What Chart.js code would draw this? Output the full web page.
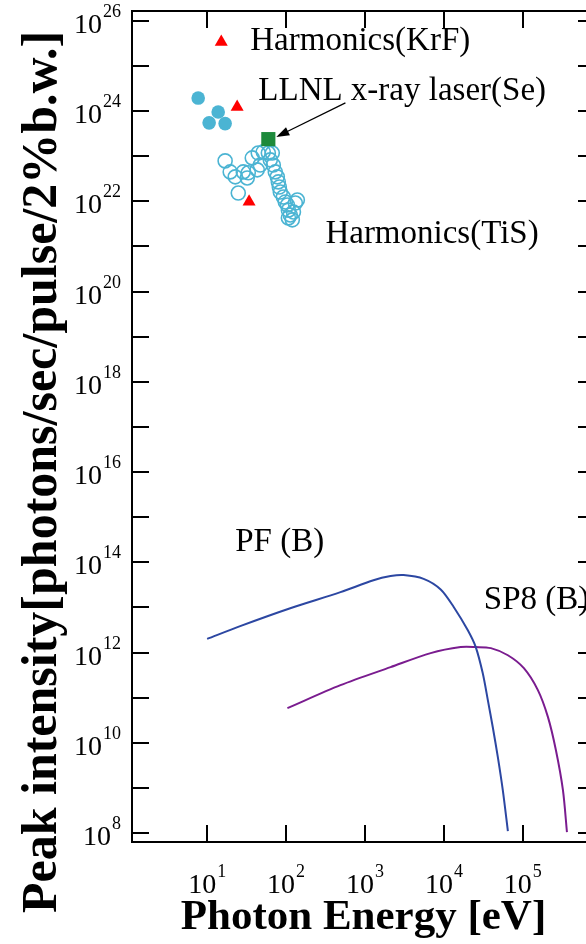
<!DOCTYPE html>
<html>
<head>
<meta charset="utf-8">
<script src="https://cdn.jsdelivr.net/npm/chart.js@4.4.1/dist/chart.umd.min.js"></script>
<style>
  html, body { margin: 0; padding: 0; background: #fff; overflow: hidden; }
  #wrap { width: 586px; height: 944px; overflow: hidden; }
  canvas { display: block; }
</style>
</head>
<body>
<div id="wrap"><canvas id="chart" width="605" height="944"></canvas></div>
<script>
// values: photon energy [eV] and peak intensity
const pfEnergy = [10, 26.2, 113, 489, 1280, 2110, 3080, 5530, 9100, 13300, 20000, 25300, 31000, 36000, 41600, 48200, 55700, 64600]
const pfIntensity = [2.0e12, 3.85e12, 9.6e12, 2.18e13, 4.0e13, 4.94e13, 5.2e13, 4.3e13, 2.5e13, 1.02e13, 3.14e12, 1.32e12, 3.5e11, 8.8e10, 2.2e10, 4.8e9, 8.9e8, 1.1e8]

const sp8Energy = [104, 489, 2110, 6790, 16300, 25300, 39300, 64600, 103000, 155000, 208000, 262000, 322000, 362000]
const sp8Intensity = [5.85e10, 1.89e11, 4.74e11, 9.7e11, 1.32e12, 1.32e12, 1.25e12, 8.7e11, 4.5e11, 1.47e11, 3.7e10, 6.9e9, 8.9e8, 1.04e8]

const tisEnergy = [16.9, 19.6, 22.7, 24.8, 28.7, 32.2, 33.2, 37.3, 43.1, 47.1, 44.4, 51.4, 59.6, 66.9, 63.1, 68.9, 73.0, 77.4, 79.7, 82.1, 84.5, 92.3, 97.8, 104, 107, 113, 120, 107, 124, 131, 139]
const tisIntensity = [7.9e22, 4.5e22, 3.5e22, 1.53e22, 4.5e22, 3.3e22, 4.3e22, 9.2e22, 5.0e22, 6.4e22, 1.18e23, 1.25e23, 1.18e23, 1.18e23, 8.3e22, 6.4e22, 4.5e22, 3.5e22, 2.7e22, 2.08e22, 1.61e22, 1.25e22, 9.7e21, 8.3e21, 6.4e21, 5.0e21, 3.9e21, 4.3e21, 5.8e21, 9.2e21, 1.07e22]

const solidEnergy = [7.7, 13.8, 10.6, 16.9]
const solidIntensity = [1.95e24, 9.6e23, 5.5e23, 5.3e23]

const krfEnergy = [24, 34]
const krfIntensity = [1.24e24, 9.8e21]
const krfKeyEnergy = [15.1]
const krfKeyIntensity = [3.4e25]

const llnlEnergy = [59.6]
const llnlIntensity = [2.4e23]

// annotation labels (left/baseline anchor, data units)
const noteTexts = ['Harmonics(KrF)', 'LLNL x-ray laser(Se)', 'Harmonics(TiS)', 'PF (B)', 'SP8 (B)']
const noteEnergy = [35.2, 44.5, 315, 22.7, 32000]
const noteIntensity = [2.27e25, 1.77e24, 1.2e21, 1.77e14, 9.2e12]
const arrowTail = [565, 1.52e24]
const arrowHead = [75.2, 2.68e23]

const xExponents = [1, 2, 3, 4, 5]
const yExponents = [8, 9, 10, 11, 12, 13, 14, 15, 16, 17, 18, 19, 20, 21, 22, 23, 24, 25, 26]
const xRange = [10 ** 0.048, 10 ** 5.914]
const yRange = [10 ** 7.8, 10 ** 26.22]

const xTitle = 'Photon Energy [eV]'
const yTitle = 'Peak intensity[photons/sec/pulse/2%b.w.]'

const serif = '"Liberation Serif", "Times New Roman", serif'
const cyan = '#4BB4D3'

const pts = (xs, ys) => xs.map((v, i) => ({ x: v, y: ys[i] }))

const axisBase = {
  type: 'logarithmic',
  grid: { drawOnChartArea: false, color: '#000', lineWidth: 2, tickLength: -17 },
  border: { color: '#000', width: 2 },
  ticks: { display: false }
}

function decadeTicks(exps) {
  return (scale) => {
    scale.ticks = exps.map((e) => ({ value: 10 ** e }))
  }
}

const textPlugin = {
  id: 'figureText',
  afterDatasetsDraw(chart) {
    const { ctx } = chart
    const x = chart.scales.x
    const y = chart.scales.y
    const tx = x.getPixelForValue(arrowTail[0])
    const ty = y.getPixelForValue(arrowTail[1])
    const hx = x.getPixelForValue(arrowHead[0])
    const hy = y.getPixelForValue(arrowHead[1])
    const a = Math.atan2(hy - ty, hx - tx)
    const c = Math.cos(a)
    const s = Math.sin(a)
    ctx.save()
    ctx.strokeStyle = '#000'
    ctx.fillStyle = '#000'
    ctx.lineWidth = 1.3
    ctx.beginPath()
    ctx.moveTo(tx, ty)
    ctx.lineTo(hx - 10 * c, hy - 10 * s)
    ctx.stroke()
    ctx.beginPath()
    ctx.moveTo(hx, hy)
    ctx.lineTo(hx - 13 * c + 4.5 * s, hy - 13 * s - 4.5 * c)
    ctx.lineTo(hx - 13 * c - 4.5 * s, hy - 13 * s + 4.5 * c)
    ctx.closePath()
    ctx.fill()
    ctx.restore()
  },
  afterDraw(chart) {
    const { ctx } = chart
    const x = chart.scales.x
    const y = chart.scales.y
    ctx.save()
    ctx.fillStyle = '#000'
    ctx.textBaseline = 'alphabetic'

    // notes
    ctx.font = '33px ' + serif
    ctx.textAlign = 'left'
    noteTexts.forEach((t, i) => {
      ctx.fillText(t, x.getPixelForValue(noteEnergy[i]), y.getPixelForValue(noteIntensity[i]))
    })

    // y tick labels, every other decade
    const base = '28px ' + serif
    const sup = '18px ' + serif
    y.ticks.forEach((t) => {
      const e = Math.round(Math.log10(t.value))
      if (e % 2) return
      const py = y.getPixelForValue(t.value)
      const right = y.right - 11
      ctx.font = sup
      const sw = ctx.measureText(String(e)).width
      ctx.fillText(String(e), right - sw, py - 4)
      ctx.font = base
      const bw = ctx.measureText('10').width
      ctx.fillText('10', right - sw - 1 - bw, py + 12)
    })

    // x tick labels
    x.ticks.forEach((t) => {
      const e = Math.round(Math.log10(t.value))
      const px = x.getPixelForValue(t.value)
      ctx.font = base
      const bw = ctx.measureText('10').width
      ctx.font = sup
      const sw = ctx.measureText(String(e)).width
      const start = px - (bw + sw + 1) / 2
      ctx.font = base
      ctx.fillText('10', start, x.top + 51)
      ctx.font = sup
      ctx.fillText(String(e), start + bw + 1, x.top + 35)
    })

    // y title
    ctx.translate(56, 472)
    ctx.rotate(-Math.PI / 2)
    ctx.textAlign = 'center'
    ctx.font = 'bold 50px ' + serif
    ctx.fillText(yTitle, 0, 0)
    ctx.restore()
  }
}

new Chart(document.getElementById('chart'), {
  type: 'scatter',
  data: {
    datasets: [
      {
        label: 'LLNL x-ray laser(Se)',
        data: pts(llnlEnergy, llnlIntensity),
        pointStyle: 'rect',
        pointRadius: 10,
        backgroundColor: '#1D8A3B',
        borderColor: '#1D8A3B',
        borderWidth: 0
      },
      {
        label: 'Harmonics(KrF)',
        data: pts(krfEnergy, krfIntensity),
        pointStyle: 'triangle',
        pointRadius: 7.5,
        backgroundColor: '#FF0000',
        borderWidth: 0
      },
      {
        label: 'Harmonics(KrF) key',
        data: pts(krfKeyEnergy, krfKeyIntensity),
        pointStyle: 'triangle',
        pointRadius: 7.5,
        backgroundColor: '#FF0000',
        borderWidth: 0
      },
      {
        label: 'Harmonics (filled)',
        data: pts(solidEnergy, solidIntensity),
        pointRadius: 6.8,
        backgroundColor: cyan,
        borderWidth: 0
      },
      {
        label: 'Harmonics(TiS)',
        data: pts(tisEnergy, tisIntensity),
        pointRadius: 7,
        backgroundColor: 'rgba(0,0,0,0)',
        borderColor: cyan,
        borderWidth: 1.6
      },
      {
        label: 'PF (B)',
        data: pts(pfEnergy, pfIntensity),
        showLine: true,
        tension: 0.3,
        pointRadius: 0,
        borderColor: '#2C47A2',
        borderWidth: 2
      },
      {
        label: 'SP8 (B)',
        data: pts(sp8Energy, sp8Intensity),
        showLine: true,
        tension: 0.3,
        pointRadius: 0,
        borderColor: '#7A1C8F',
        borderWidth: 2
      }
    ]
  },
  options: {
    responsive: false,
    devicePixelRatio: 1,
    animation: false,
    layout: { padding: { top: 11, right: 2, left: 0, bottom: 0 } },
    plugins: {
      legend: { display: false },
      tooltip: { enabled: false }
    },
    scales: {
      x: {
        ...axisBase,
        position: 'bottom',
        min: xRange[0],
        max: xRange[1],
        afterBuildTicks: decadeTicks(xExponents),
        afterFit: (s) => { s.height = 102 },
        title: {
          display: true,
          text: xTitle,
          color: '#000',
          font: { family: serif, size: 43, weight: 'bold' },
          padding: { top: 0, bottom: 0 }
        }
      },
      xTop: {
        ...axisBase,
        position: 'top',
        min: xRange[0],
        max: xRange[1],
        afterBuildTicks: decadeTicks(xExponents),
        afterFit: (s) => { s.height = 0 }
      },
      y: {
        ...axisBase,
        position: 'left',
        min: yRange[0],
        max: yRange[1],
        afterBuildTicks: decadeTicks(yExponents),
        afterFit: (s) => { s.width = 132 }
      },
      yRight: {
        ...axisBase,
        position: 'right',
        min: yRange[0],
        max: yRange[1],
        afterBuildTicks: decadeTicks(yExponents),
        afterFit: (s) => { s.width = 0 }
      }
    }
  },
  plugins: [textPlugin]
})
</script>
</body>
</html>
